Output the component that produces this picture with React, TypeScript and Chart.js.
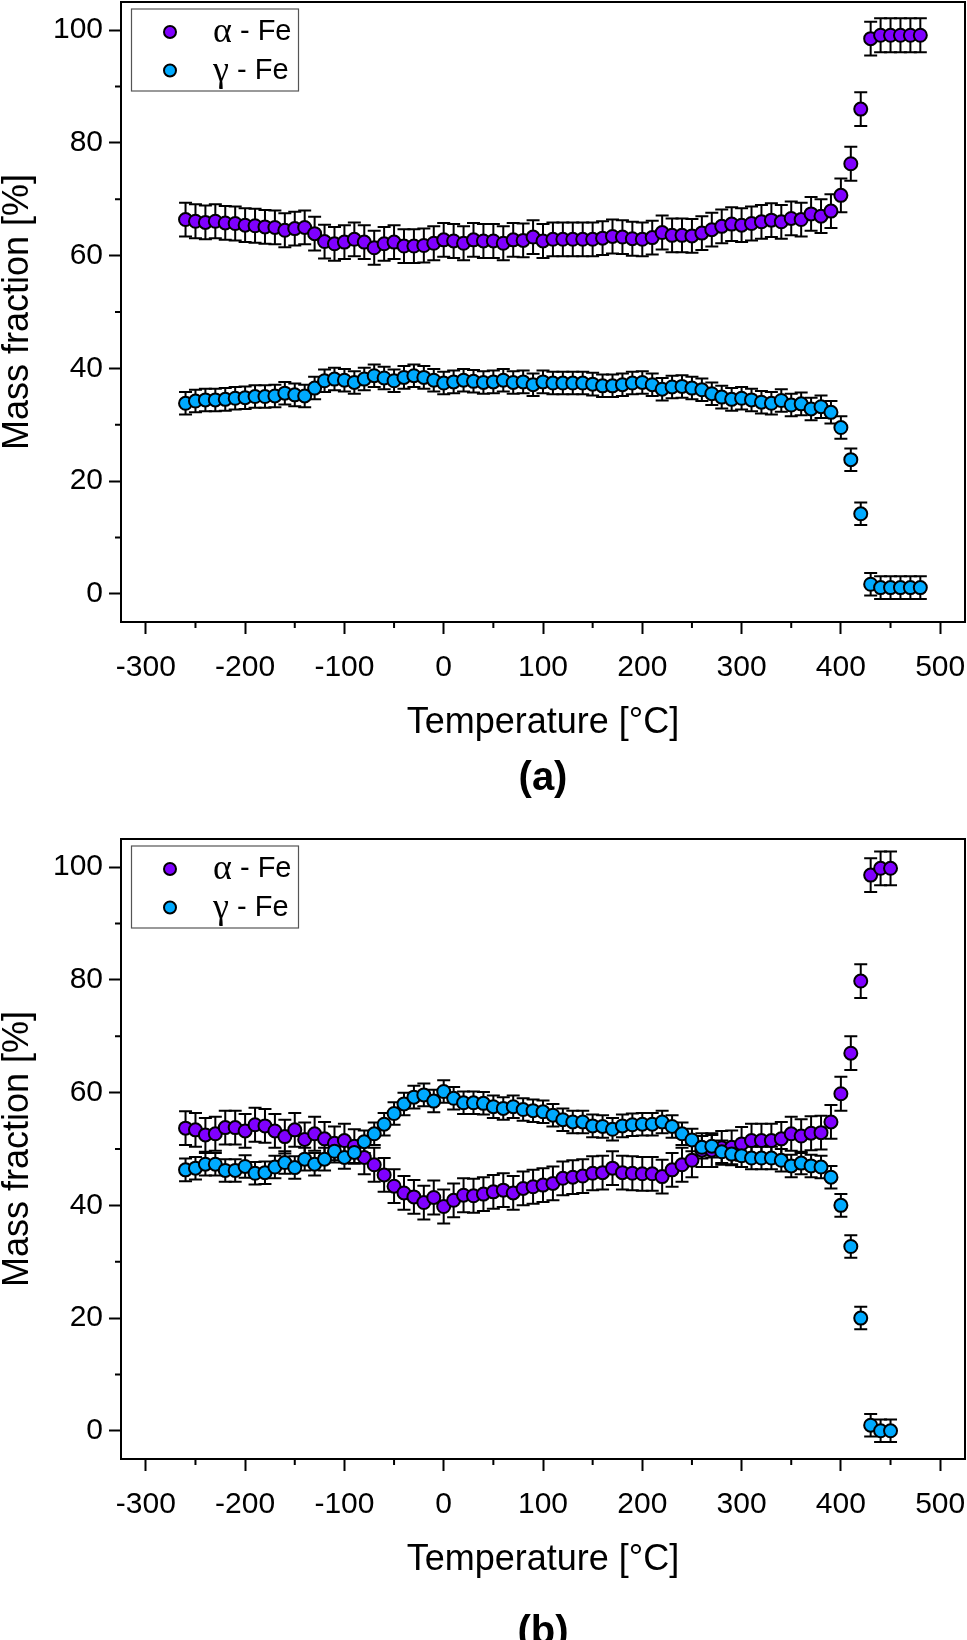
import React, { useEffect, useRef } from "react";
import { Chart, registerables } from "chart.js";

Chart.register(...registerables);

// ---------- data: panel (a) ----------
const TEMPS_A = [
  -260, -250, -240, -230, -220, -210, -200, -190, -180, -170, -160, -150, -140,
  -130, -120, -110, -100, -90, -80, -70, -60, -50, -40, -30, -20, -10, 0, 10,
  20, 30, 40, 50, 60, 70, 80, 90, 100, 110, 120, 130, 140, 150, 160, 170, 180,
  190, 200, 210, 220, 230, 240, 250, 260, 270, 280, 290, 300, 310, 320, 330,
  340, 350, 360, 370, 380, 390, 400, 410, 420, 430, 440, 450, 460, 470, 480,
];
const ALPHA_A = [
  66.4, 66.1, 65.9, 66.1, 65.8, 65.7, 65.4, 65.3, 65.1, 65.0, 64.5, 64.8, 65.0,
  63.9, 62.5, 62.1, 62.4, 62.9, 62.4, 61.4, 62.1, 62.4, 61.7, 61.7, 61.8, 62.2,
  62.8, 62.6, 62.2, 62.8, 62.6, 62.6, 62.2, 62.8, 62.7, 63.3, 62.6, 62.9, 62.9,
  62.9, 62.9, 62.9, 63.1, 63.4, 63.3, 63.0, 62.9, 63.2, 64.1, 63.6, 63.6, 63.5,
  64.0, 64.6, 65.2, 65.6, 65.4, 65.7, 66.0, 66.3, 66.0, 66.6, 66.4, 67.4, 67.0,
  67.9, 70.7, 76.3, 86.0, 98.5, 99.1, 99.1, 99.1, 99.1, 99.1,
];
const GAMMA_A = [
  33.8, 34.2, 34.4, 34.4, 34.5, 34.7, 34.8, 35.0, 35.0, 35.1, 35.6, 35.3, 35.1,
  36.5, 37.8, 38.1, 37.9, 37.5, 38.1, 38.7, 38.3, 37.8, 38.4, 38.7, 38.4, 37.9,
  37.4, 37.6, 37.9, 37.7, 37.5, 37.6, 37.9, 37.5, 37.6, 37.1, 37.6, 37.4, 37.4,
  37.4, 37.4, 37.2, 36.9, 36.9, 37.1, 37.4, 37.5, 37.1, 36.3, 36.7, 36.8, 36.5,
  36.2, 35.5, 34.9, 34.5, 34.7, 34.4, 34.0, 33.8, 34.3, 33.5, 33.7, 32.8, 33.2,
  32.2, 29.5, 23.8, 14.2, 1.7, 1.1, 1.1, 1.1, 1.1, 1.1,
];

// ---------- data: panel (b) ----------
const TEMPS_B = [
  -260, -250, -240, -230, -220, -210, -200, -190, -180, -170, -160, -150, -140,
  -130, -120, -110, -100, -90, -80, -70, -60, -50, -40, -30, -20, -10, 0, 10,
  20, 30, 40, 50, 60, 70, 80, 90, 100, 110, 120, 130, 140, 150, 160, 170, 180,
  190, 200, 210, 220, 230, 240, 250, 260, 270, 280, 290, 300, 310, 320, 330,
  340, 350, 360, 370, 380, 390, 400, 410, 420, 430, 440, 450,
];
const ALPHA_B = [
  53.7, 53.4, 52.5, 52.7, 53.8, 53.8, 53.2, 54.3, 54.1, 53.2, 52.2, 53.4, 51.7,
  52.7, 51.8, 51.0, 51.5, 50.5, 48.5, 47.2, 45.4, 43.4, 42.2, 41.5, 40.5, 41.4,
  39.8, 40.9, 41.8, 41.7, 42.0, 42.4, 42.7, 42.2, 43.0, 43.3, 43.6, 43.9, 44.8,
  45.0, 45.2, 45.7, 45.8, 46.6, 45.8, 45.7, 45.6, 45.6, 45.1, 46.3, 47.2, 48.0,
  49.8, 49.8, 50.2, 50.3, 50.9, 51.5, 51.5, 51.5, 51.8, 52.7, 52.3, 52.8, 52.9,
  54.8, 59.8, 67.0, 79.8, 98.6, 99.8, 99.8,
];
const GAMMA_B = [
  46.3, 46.6, 47.3, 47.3, 46.2, 46.2, 46.9, 45.7, 45.8, 46.8, 47.6, 46.7, 48.2,
  47.3, 48.2, 49.6, 48.5, 49.4, 51.3, 52.7, 54.4, 56.3, 58.0, 59.2, 59.6, 58.5,
  60.2, 59.0, 58.2, 58.2, 58.1, 57.5, 57.2, 57.5, 57.0, 56.8, 56.6, 56.0, 55.2,
  54.8, 54.8, 54.1, 54.0, 53.5, 54.1, 54.3, 54.4, 54.4, 54.8, 54.0, 52.7, 51.6,
  50.3, 50.5, 49.5, 49.1, 48.8, 48.4, 48.4, 48.4, 48.0, 47.0, 47.5, 47.0, 46.8,
  45.0, 40.0, 32.7, 20.0, 1.0, 0.0, 0.0,
];

// uncertainties (read as uniform half-widths of the error bars)
const ALPHA_ERR = 3.0;
const GAMMA_ERR = 2.0;

const SERIES_LABELS = ["α - Fe", "γ - Fe"];
const X_TITLE = "Temperature [°C]";
const Y_TITLE = "Mass fraction [%]";
const CAPTIONS = ["(a)", "(b)"];

const X_TICKS = [-300, -200, -100, 0, 100, 200, 300, 400, 500];
const X_MINOR_TICKS = [-250, -150, -50, 50, 150, 250, 350, 450];
const Y_TICKS = [0, 20, 40, 60, 80, 100];
const Y_MINOR_TICKS = [10, 30, 50, 70, 90];
const X_MIN = -325;
const X_MAX = 525;
const Y_MIN = -5;
const Y_MAX = 105;

const ALPHA_COLOR = "#8000ff";
const GAMMA_COLOR = "#00aaff";
const SANS = "'Liberation Sans', Arial, Helvetica, sans-serif";
const SERIF = "'Liberation Serif', 'Times New Roman', serif";

const W = 967;
const PANEL_H = 837;

const errorBarPlugin = {
  id: "errorBars",
  beforeDatasetsDraw(chart: any) {
    const { ctx } = chart;
    const yScale = chart.scales.y;
    ctx.save();
    ctx.strokeStyle = "#000";
    ctx.lineWidth = 2;
    chart.data.datasets.forEach((ds: any, i: number) => {
      const meta = chart.getDatasetMeta(i);
      const err = ds.errorBar;
      meta.data.forEach((pt: any, j: number) => {
        const v = ds.data[j].y;
        const yTop = yScale.getPixelForValue(v + err);
        const yBot = yScale.getPixelForValue(v - err);
        const x = pt.x;
        ctx.beginPath();
        ctx.moveTo(x, yTop);
        ctx.lineTo(x, yBot);
        ctx.moveTo(x - 6.5, yTop);
        ctx.lineTo(x + 6.5, yTop);
        ctx.moveTo(x - 6.5, yBot);
        ctx.lineTo(x + 6.5, yBot);
        ctx.stroke();
      });
    });
    ctx.restore();
  },
};

const framePlugin = {
  id: "frame",
  afterDraw(chart: any) {
    const { ctx, chartArea: a } = chart;
    const xs = chart.scales.x;
    const ys = chart.scales.y;
    ctx.save();
    ctx.strokeStyle = "#000";
    ctx.lineWidth = 2;
    ctx.strokeRect(a.left, a.top, a.right - a.left, a.bottom - a.top);
    ctx.beginPath();
    X_MINOR_TICKS.forEach((v) => {
      const px = xs.getPixelForValue(v);
      ctx.moveTo(px, a.bottom);
      ctx.lineTo(px, a.bottom + 6);
    });
    Y_MINOR_TICKS.forEach((v) => {
      const py = ys.getPixelForValue(v);
      ctx.moveTo(a.left, py);
      ctx.lineTo(a.left - 6, py);
    });
    ctx.stroke();
    ctx.restore();
  },
};

const legendPlugin = {
  id: "figLegend",
  afterDraw(chart: any) {
    const { ctx, chartArea: a } = chart;
    ctx.save();
    ctx.strokeStyle = "#555";
    ctx.lineWidth = 1.2;
    ctx.strokeRect(a.left + 10.5, a.top + 7, 167, 82);
    chart.data.datasets.forEach((ds: any, i: number) => {
      const cy = a.top + 30 + i * 38.5;
      const cx = a.left + 49;
      ctx.beginPath();
      ctx.arc(cx, cy, 6, 0, Math.PI * 2);
      ctx.fillStyle = ds.backgroundColor;
      ctx.fill();
      ctx.lineWidth = 2;
      ctx.strokeStyle = "#000";
      ctx.stroke();
      const label: string = ds.label;
      const sym = label.slice(0, 1);
      const rest = label.slice(1);
      ctx.fillStyle = "#000";
      ctx.textBaseline = "middle";
      ctx.textAlign = "left";
      ctx.font = `36px ${SERIF}`;
      const tx = a.left + 92;
      ctx.fillText(sym, tx, cy + 1);
      const w = ctx.measureText(sym).width;
      ctx.font = `29px ${SANS}`;
      ctx.fillText(rest, tx + w, cy);
    });
    ctx.restore();
  },
};

const captionPlugin = {
  id: "caption",
  afterDraw(chart: any) {
    const opts = chart.options.plugins.caption;
    if (!opts) return;
    const { ctx, chartArea: a } = chart;
    ctx.save();
    ctx.fillStyle = "#000";
    ctx.font = `bold 40px ${SANS}`;
    ctx.textAlign = "center";
    ctx.textBaseline = "middle";
    ctx.fillText(opts.text, (a.left + a.right) / 2, a.bottom + opts.offset);
    ctx.restore();
  },
};

type PanelProps = {
  temps: number[];
  alpha: number[];
  gamma: number[];
  caption: string;
  captionOffset: number;
  top: number;
};

function zeroPadding(s: any) {
  s.paddingLeft = 0;
  s.paddingRight = 0;
  s.paddingTop = 0;
  s.paddingBottom = 0;
}

function Panel({ temps, alpha, gamma, caption, captionOffset, top }: PanelProps) {
  const ref = useRef<HTMLCanvasElement | null>(null);

  useEffect(() => {
    const canvas = ref.current;
    if (!canvas) return;
    const tickFont = { family: SANS, size: 30 };
    const grid = {
      drawOnChartArea: false,
      drawTicks: true,
      tickLength: 12,
      tickWidth: 2,
      tickColor: "#000",
      color: "#000",
    };
    const chart = new Chart(canvas, {
      type: "scatter",
      data: {
        datasets: [
          {
            label: SERIES_LABELS[0],
            data: temps.map((t, i) => ({ x: t, y: alpha[i] })),
            errorBar: ALPHA_ERR,
            backgroundColor: ALPHA_COLOR,
            borderColor: "#000",
            pointRadius: 6.5,
            pointHoverRadius: 6.5,
            pointBorderWidth: 2,
            order: 1,
          } as any,
          {
            label: SERIES_LABELS[1],
            data: temps.map((t, i) => ({ x: t, y: gamma[i] })),
            errorBar: GAMMA_ERR,
            backgroundColor: GAMMA_COLOR,
            borderColor: "#000",
            pointRadius: 6.5,
            pointHoverRadius: 6.5,
            pointBorderWidth: 2,
            order: 0,
          } as any,
        ],
      },
      options: {
        responsive: false,
        animation: false,
        events: [],
        layout: { autoPadding: false, padding: { top: 2, right: 2, left: 0, bottom: 0 } },
        plugins: {
          legend: { display: false },
          tooltip: { enabled: false },
          title: { display: false },
          caption: { text: caption, offset: captionOffset },
        } as any,
        scales: {
          x: {
            type: "linear",
            min: X_MIN,
            max: X_MAX,
            afterBuildTicks: (s: any) => {
              s.ticks = X_TICKS.map((v) => ({ value: v }));
            },
            afterFit: (s: any) => {
              s.height = 215;
              zeroPadding(s);
            },
            grid,
            border: { display: false },
            ticks: {
              font: tickFont,
              color: "#000",
              padding: 16,
              maxRotation: 0,
              autoSkip: false,
              callback: (v: any) => String(v),
            },
            title: {
              display: true,
              text: X_TITLE,
              color: "#000",
              font: { family: SANS, size: 36 },
              padding: { top: 0, bottom: 92 },
            },
          },
          y: {
            type: "linear",
            min: Y_MIN,
            max: Y_MAX,
            afterBuildTicks: (s: any) => {
              s.ticks = Y_TICKS.map((v) => ({ value: v }));
            },
            afterFit: (s: any) => {
              s.width = 121;
              zeroPadding(s);
            },
            grid,
            border: { display: false },
            ticks: {
              font: tickFont,
              color: "#000",
              padding: 6,
              autoSkip: false,
              callback: (v: any) => String(v),
            },
            title: {
              display: true,
              text: Y_TITLE,
              color: "#000",
              font: { family: SANS, size: 36, lineHeight: 1 },
              padding: { top: 0, bottom: 0 },
            },
          },
        },
      } as any,
      plugins: [errorBarPlugin, framePlugin, legendPlugin, captionPlugin],
    });
    return () => chart.destroy();
  }, [temps, alpha, gamma, caption, captionOffset]);

  return (
    <div style={{ position: "absolute", left: 0, top, width: W, height: PANEL_H }}>
      <canvas
        ref={ref}
        width={W}
        height={PANEL_H}
        style={{ width: W, height: PANEL_H, display: "block" }}
      />
    </div>
  );
}

export default function App() {
  return (
    <div
      style={{
        position: "absolute",
        left: 0,
        top: 0,
        width: W,
        height: 1640,
        overflow: "hidden",
        background: "#fff",
      }}
    >
      <Panel
        temps={TEMPS_A}
        alpha={ALPHA_A}
        gamma={GAMMA_A}
        caption={CAPTIONS[0]}
        captionOffset={157}
        top={0}
      />
      <Panel
        temps={TEMPS_B}
        alpha={ALPHA_B}
        gamma={GAMMA_B}
        caption={CAPTIONS[1]}
        captionOffset={174}
        top={PANEL_H}
      />
    </div>
  );
}
